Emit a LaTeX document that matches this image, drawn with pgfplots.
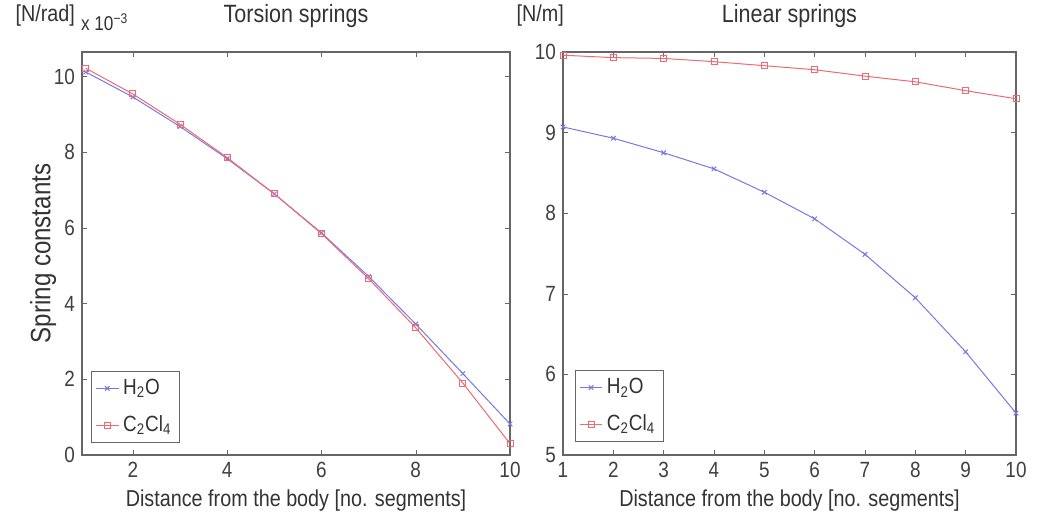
\documentclass[border=0pt]{standalone}
\usepackage{fontspec}
\setmainfont{Liberation Sans}[FakeStretch=0.86]
\usepackage{pgfplots}
\pgfplotsset{compat=1.18}
\definecolor{mblue}{RGB}{120,120,228}
\definecolor{mred}{RGB}{238,105,115}
\pgfplotsset{
  mstyle/.style={
    scale only axis,
    anchor=south west,
    height=201.5pt,
    clip mode=individual,
    /pgf/number format/assume math mode=true,
    tick label style={font=\fontsize{11}{12}\selectfont, text=black!75},
    label style={font=\fontsize{11.5}{13}\selectfont, text=black!80},
    axis line style={black!60, line width=0.6pt},
    major tick length=2.5pt,
    tick style={black!60},
    legend cell align=left,
    legend style={draw=black!60, font=\fontsize{11}{12}\selectfont, text=black!80,
      row sep=5pt, inner sep=2pt},
    legend image code/.code={%
      \draw[mark repeat=2,mark phase=2,#1] plot coordinates {(0cm,0cm) (0.2cm,0cm) (0.4cm,0cm)};},
    legend image post style={sharp plot},
    xlabel={Distance from the body [no. segments]},
    xlabel style={yshift=1pt},
  },
}
\begin{document}
\begin{tikzpicture}
\useasboundingbox (0,0) rectangle (529.5pt,256.5pt);
% left: torsion springs
\begin{axis}[mstyle,
  at={(41pt,29pt)}, width=214pt,
  xmin=0.92, xmax=10, ymin=0, ymax=10.65,
  xtick={2,4,6,8,10}, ytick={0,2,4,6,8,10},
  ylabel={Spring constants}, ylabel style={font=\fontsize{14}{15}\selectfont, yshift=-8pt},
  legend style={at={(0.021,0.03)}, anchor=south west},
]
\addplot[mblue, line width=0.5pt, mark=x, mark size=1.6pt]
  coordinates {(1,10.12)(2,9.46)(3,8.68)(4,7.83)(5,6.90)(6,5.87)(7,4.72)(8,3.46)(9,2.15)(10,0.82)};
\addplot[mred, line width=0.5pt, mark=square, mark size=1.5pt]
  coordinates {(1,10.22)(2,9.54)(3,8.74)(4,7.86)(5,6.90)(6,5.85)(7,4.66)(8,3.36)(9,1.90)(10,0.30)};
\legend{H\textsubscript{2}O, C\textsubscript{2}Cl\textsubscript{4}}
\node[font=\fontsize{12.5}{14}\selectfont, text=black!80] at (rel axis cs:0.5,1) [yshift=18pt] {Torsion springs};
\node[font=\fontsize{11.5}{13}\selectfont, text=black!80, anchor=east] at (rel axis cs:0,1) [yshift=18pt, xshift=0pt] {[N/rad]};
\node[font=\fontsize{10}{11}\selectfont, text=black!80, anchor=west] at (rel axis cs:0,1) [yshift=15pt, xshift=-4pt] {x 10\textsuperscript{−3}};
\end{axis}
% right: linear springs
\begin{axis}[mstyle,
  at={(281.5pt,29pt)}, width=226.5pt,
  xmin=1, xmax=10, ymin=5, ymax=10,
  xtick={1,2,...,10}, ytick={5,6,7,8,9,10},
  legend style={at={(0.026,0.032)}, anchor=south west},
]
\addplot[mblue, line width=0.5pt, mark=x, mark size=1.6pt]
  coordinates {(1,9.07)(2,8.93)(3,8.75)(4,8.55)(5,8.26)(6,7.93)(7,7.49)(8,6.95)(9,6.28)(10,5.52)};
\addplot[mred, line width=0.5pt, mark=square, mark size=1.5pt]
  coordinates {(1,9.96)(2,9.93)(3,9.92)(4,9.88)(5,9.83)(6,9.78)(7,9.70)(8,9.63)(9,9.52)(10,9.42)};
\legend{H\textsubscript{2}O, C\textsubscript{2}Cl\textsubscript{4}}
\node[font=\fontsize{12.5}{14}\selectfont, text=black!80] at (rel axis cs:0.5,1) [yshift=18pt] {Linear springs};
\node[font=\fontsize{11.5}{13}\selectfont, text=black!80, anchor=east] at (rel axis cs:0,1) [yshift=18pt, xshift=4pt] {[N/m]};
\end{axis}
\end{tikzpicture}
\end{document}
